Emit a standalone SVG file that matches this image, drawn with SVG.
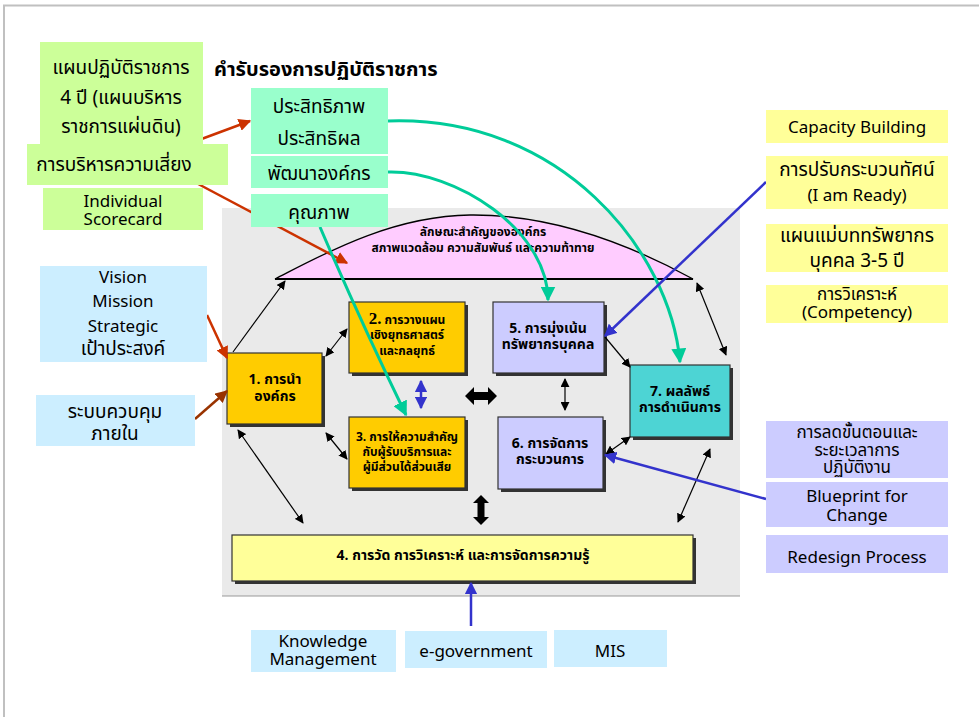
<svg xmlns="http://www.w3.org/2000/svg" width="979" height="717" viewBox="0 0 979 717">
  <defs>
    <style>
      text { font-family: Tahoma, "Noto Sans Thai", "DejaVu Sans", "Noto Sans", sans-serif; fill: #000; }
      .side { font-size: 19px; text-anchor: middle; }
      .tight { font-size: 17px; text-anchor: middle; }
      .en { font-size: 17px; text-anchor: middle; }
      .num { font-size: 14px; font-weight: bold; text-anchor: middle; }
      .num12 { font-size: 12px; font-weight: bold; text-anchor: middle; }
      .title { font-size: 20px; font-weight: bold; }
      .dome { font-size: 12px; font-weight: bold; text-anchor: middle; }
      .green { fill: #ccff99; }
      .mint { fill: #99ffcc; }
      .sky { fill: #cceeff; }
      .lemon { fill: #ffff99; }
      .lav { fill: #ccccff; }
      .shadow { fill: #333; }
      .box { stroke: #333; stroke-width: 1.2; }
      .thin { fill: none; stroke: #000; stroke-width: 1.2; }
      .teal { fill: none; stroke: #00cc99; stroke-width: 3; }
      .red { fill: none; stroke: #cc3300; stroke-width: 2.5; }
      .brown { fill: none; stroke: #993300; stroke-width: 2.5; }
      .blue { fill: none; stroke: #3333cc; stroke-width: 2.5; }
    </style>
    <marker id="ah" viewBox="0 0 10 10" refX="9" refY="5" markerWidth="9" markerHeight="9" markerUnits="userSpaceOnUse" orient="auto-start-reverse">
      <path d="M0,0 L10,5 L0,10 Z" fill="#000"/>
    </marker>
    <marker id="ahTeal" viewBox="0 0 10 10" refX="9" refY="5" markerWidth="5" markerHeight="5" orient="auto">
      <path d="M0,0 L10,5 L0,10 Z" fill="#00cc99"/>
    </marker>
    <marker id="ahRed" viewBox="0 0 10 10" refX="9" refY="5" markerWidth="5" markerHeight="5" orient="auto">
      <path d="M0,0 L10,5 L0,10 Z" fill="#cc3300"/>
    </marker>
    <marker id="ahBrown" viewBox="0 0 10 10" refX="9" refY="5" markerWidth="5" markerHeight="5" orient="auto">
      <path d="M0,0 L10,5 L0,10 Z" fill="#993300"/>
    </marker>
    <marker id="ahBlue" viewBox="0 0 10 10" refX="9" refY="5" markerWidth="5" markerHeight="5" orient="auto-start-reverse">
      <path d="M0,0 L10,5 L0,10 Z" fill="#3333cc"/>
    </marker>
  </defs>

  <!-- slide frame -->
  <rect x="0" y="0" width="979" height="717" fill="#fff"/>
  <path d="M4,717 V5.5 H979" fill="none" stroke="#c0c0c0" stroke-width="2"/>

  <!-- grey panel holding the organisation model -->
  <rect x="222" y="208" width="518" height="388" fill="#eaeaea"/>
  <line x1="222" y1="596" x2="740" y2="596" stroke="#999" stroke-width="1"/>

  <g id="profile">
    <path d="M275,279 C320,256 390,216 470,215 C560,214 640,250 693,279 Z" fill="#ffccff" stroke="#000" stroke-width="1.3"/>
    <line x1="275" y1="279" x2="693" y2="279" stroke="#000" stroke-width="2"/>
    <text class="dome" x="483" y="236">ลักษณะสำคัญขององค์กร</text>
    <text class="dome" x="483" y="252">สภาพแวดล้อม ความสัมพันธ์ และความท้าทาย</text>
  </g>

  <g id="c1">
    <rect class="shadow" x="230" y="356" width="95" height="71"/>
    <rect class="box" x="227" y="353" width="95" height="71" fill="#ffcc00"/>
    <text class="num" x="275" y="384">1. การนำ</text>
    <text class="num" x="275" y="401">องค์กร</text>
  </g>
  <g id="c2">
    <rect class="shadow" x="352" y="305" width="116" height="71"/>
    <rect class="box" x="349" y="302" width="116" height="71" fill="#ffcc00"/>
    <text class="num12" x="407" y="324"><tspan font-size="17" font-family="Liberation Serif, serif">2.</tspan> การวางแผน</text>
    <text class="num12" x="407" y="339">เชิงยุทธศาสตร์</text>
    <text class="num12" x="407" y="355">และกลยุทธ์</text>
  </g>
  <g id="c3">
    <rect class="shadow" x="352" y="420" width="116" height="71"/>
    <rect class="box" x="349" y="417" width="116" height="71" fill="#ffcc00"/>
    <text class="num12" x="407" y="441">3. การให้ความสำคัญ</text>
    <text class="num12" x="407" y="456">กับผู้รับบริการและ</text>
    <text class="num12" x="407" y="471">ผู้มีส่วนได้ส่วนเสีย</text>
  </g>
  <g id="c5">
    <rect class="shadow" x="496" y="305" width="111" height="71"/>
    <rect class="box" x="493" y="302" width="111" height="71" fill="#ccccff"/>
    <text class="num" x="548" y="333">5. การมุ่งเน้น</text>
    <text class="num" x="548" y="349">ทรัพยากรบุคคล</text>
  </g>
  <g id="c6">
    <rect class="shadow" x="501" y="420" width="105" height="72"/>
    <rect class="box" x="498" y="417" width="105" height="72" fill="#ccccff"/>
    <text class="num" x="550" y="448">6. การจัดการ</text>
    <text class="num" x="550" y="464">กระบวนการ</text>
  </g>
  <g id="c7">
    <rect class="shadow" x="633" y="368" width="100" height="72"/>
    <rect class="box" x="630" y="365" width="100" height="72" fill="#4dd4d4"/>
    <text class="num" x="680" y="396">7. ผลลัพธ์</text>
    <text class="num" x="680" y="412">การดำเนินการ</text>
  </g>
  <g id="c4">
    <rect class="shadow" x="235" y="538" width="461" height="46"/>
    <rect class="box" x="232" y="535" width="461" height="46" fill="#ffff99"/>
    <text class="num" x="463" y="560">4. การวัด การวิเคราะห์ และการจัดการความรู้</text>
  </g>

  <g id="connectors">
    <!-- red arrows from the plan and risk boxes (they start beneath those boxes) -->
    <line class="red" x1="180" y1="147" x2="250" y2="121" marker-end="url(#ahRed)"/>
    <line class="red" x1="185" y1="177" x2="347" y2="263" marker-end="url(#ahRed)"/>
    <!-- links inside the model -->
    <line class="thin" x1="233" y1="352" x2="285" y2="281" marker-end="url(#ah)"/>
    <line class="thin" x1="326" y1="356" x2="347" y2="329" marker-start="url(#ah)" marker-end="url(#ah)"/>
    <line class="thin" x1="326" y1="433" x2="347" y2="459" marker-start="url(#ah)" marker-end="url(#ah)"/>
    <line class="thin" x1="238" y1="430" x2="303" y2="523" marker-start="url(#ah)" marker-end="url(#ah)"/>
    <line class="thin" x1="565" y1="379" x2="565" y2="410" marker-start="url(#ah)" marker-end="url(#ah)"/>
    <line class="thin" x1="605" y1="337" x2="630" y2="367" marker-end="url(#ah)"/>
    <line class="thin" x1="606" y1="454" x2="630" y2="437" marker-start="url(#ah)" marker-end="url(#ah)"/>
    <line class="thin" x1="697" y1="283" x2="726" y2="355" marker-start="url(#ah)" marker-end="url(#ah)"/>
    <line class="thin" x1="678" y1="522" x2="710" y2="449" marker-start="url(#ah)" marker-end="url(#ah)"/>
    <!-- heavy two-way arrows -->
    <path d="M465,396 L474,387 L474,392 L488,392 L488,387 L497,396 L488,405 L488,400 L474,400 L474,405 Z" fill="#000"/>
    <path d="M481,495 L489,503 L484.5,503 L484.5,517 L489,517 L481,525 L473,517 L477.5,517 L477.5,503 L473,503 Z" fill="#000"/>
    <line class="blue" x1="421" y1="381" x2="421" y2="408" stroke-width="1.3" marker-start="url(#ahBlue)" marker-end="url(#ahBlue)"/>
    <!-- incoming influences -->
    <path class="teal" d="M388,121 C560,115 670,250 680,362" marker-end="url(#ahTeal)"/>
    <path class="teal" d="M388,172 C455,170 548,230 548,300" marker-end="url(#ahTeal)"/>
    <path class="teal" d="M320,227 Q360,320 406,415" marker-end="url(#ahTeal)"/>
    <line class="red" x1="207" y1="315" x2="227" y2="358" marker-end="url(#ahRed)"/>
    <line class="brown" x1="195" y1="419" x2="227" y2="391" marker-end="url(#ahBrown)"/>
    <line class="blue" x1="766" y1="182" x2="605" y2="336" marker-end="url(#ahBlue)"/>
    <line class="blue" x1="766" y1="499" x2="605" y2="455" marker-end="url(#ahBlue)"/>
    <line class="blue" x1="471" y1="626" x2="471" y2="583" marker-end="url(#ahBlue)"/>
  </g>

  <text class="title" x="214" y="76">คำรับรองการปฏิบัติราชการ</text>

  <!-- left-hand drivers -->
  <g id="plan4y">
    <rect class="green" x="40" y="42" width="163" height="102"/>
    <text class="side" x="121" y="74">แผนปฏิบัติราชการ</text>
    <text class="side" x="121" y="104">4 ปี (แผนบริหาร</text>
    <text class="side" x="121" y="133">ราชการแผ่นดิน)</text>
  </g>
  <g id="risk">
    <rect class="green" x="27" y="144" width="201" height="41"/>
    <text class="side" x="114" y="171">การบริหารความเสี่ยง</text>
  </g>
  <g id="scorecard">
    <rect class="green" x="43" y="188" width="160" height="42"/>
    <text class="en" x="123" y="207">Individual</text>
    <text class="en" x="123" y="225">Scorecard</text>
  </g>
  <g id="efficiency">
    <rect class="mint" x="251" y="88" width="137" height="66"/>
    <text class="side" x="319" y="113">ประสิทธิภาพ</text>
    <text class="side" x="319" y="145">ประสิทธิผล</text>
  </g>
  <g id="orgdev">
    <rect class="mint" x="251" y="156" width="137" height="32"/>
    <text class="side" x="319" y="180">พัฒนาองค์กร</text>
  </g>
  <g id="quality">
    <rect class="mint" x="251" y="194" width="137" height="33"/>
    <text class="side" x="319" y="219">คุณภาพ</text>
  </g>
  <g id="vision">
    <rect class="sky" x="40" y="266" width="167" height="96"/>
    <text class="en" x="123" y="283">Vision</text>
    <text class="en" x="123" y="307">Mission</text>
    <text class="en" x="123" y="332">Strategic</text>
    <text class="side" x="123" y="355">เป้าประสงค์</text>
  </g>
  <g id="control">
    <rect class="sky" x="36" y="395" width="159" height="51"/>
    <text class="side" x="115" y="418">ระบบควบคุม</text>
    <text class="side" x="115" y="440">ภายใน</text>
  </g>

  <!-- right-hand supports -->
  <g id="capacity">
    <rect class="lemon" x="766" y="110" width="182" height="33"/>
    <text class="en" x="857" y="133">Capacity Building</text>
  </g>
  <g id="ready">
    <rect class="lemon" x="766" y="156" width="182" height="53"/>
    <text class="side" x="857" y="176">การปรับกระบวนทัศน์</text>
    <text class="en" x="857" y="201">(I am Ready)</text>
  </g>
  <g id="hrplan">
    <rect class="lemon" x="766" y="224" width="182" height="48"/>
    <text class="side" x="857" y="242">แผนแม่บททรัพยากร</text>
    <text class="side" x="857" y="267">บุคคล 3-5 ปี</text>
  </g>
  <g id="competency">
    <rect class="lemon" x="766" y="285" width="182" height="38"/>
    <text class="tight" x="857" y="300">การวิเคราะห์</text>
    <text class="en" x="857" y="318">(Competency)</text>
  </g>
  <g id="shorten">
    <rect class="lav" x="766" y="421" width="182" height="57"/>
    <text class="tight" x="857" y="438">การลดขั้นตอนและ</text>
    <text class="tight" x="857" y="456">ระยะเวลาการ</text>
    <text class="tight" x="857" y="473">ปฏิบัติงาน</text>
  </g>
  <g id="blueprint">
    <rect class="lav" x="766" y="482" width="182" height="45"/>
    <text class="en" x="857" y="502">Blueprint for</text>
    <text class="en" x="857" y="521">Change</text>
  </g>
  <g id="redesign">
    <rect class="lav" x="766" y="535" width="182" height="38"/>
    <text class="en" x="857" y="563">Redesign Process</text>
  </g>

  <!-- information systems below -->
  <g id="km">
    <rect class="sky" x="251" y="630" width="145" height="42"/>
    <text class="en" x="323" y="647">Knowledge</text>
    <text class="en" x="323" y="665">Management</text>
  </g>
  <g id="egov">
    <rect class="sky" x="405" y="631" width="142" height="37"/>
    <text class="en" x="476" y="657">e-government</text>
  </g>
  <g id="mis">
    <rect class="sky" x="554" y="630" width="113" height="37"/>
    <text class="en" x="610" y="657">MIS</text>
  </g>
</svg>
